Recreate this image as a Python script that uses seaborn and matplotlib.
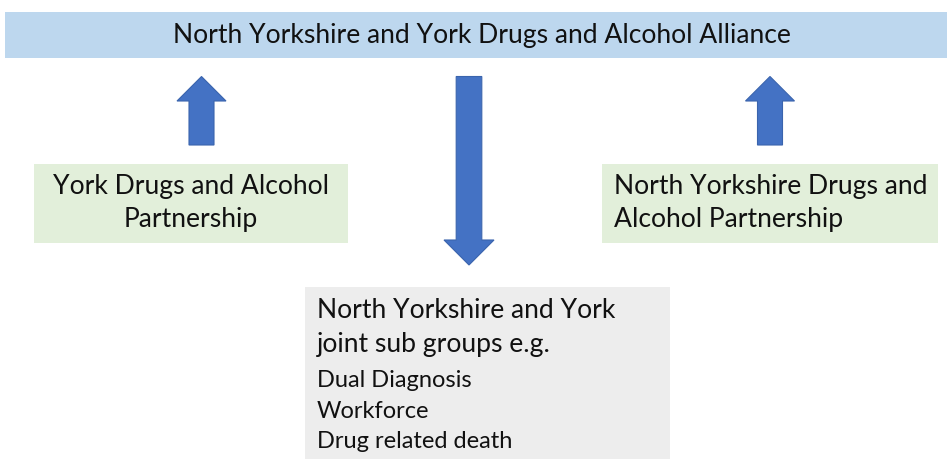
import matplotlib
matplotlib.use("Agg")
import matplotlib.pyplot as plt
from matplotlib.patches import Rectangle, Polygon
import seaborn as sns

sns.set_theme(style="white")
plt.rcParams['font.family'] = ['Lato', 'DejaVu Sans']

# ---- content ----
title_text = "North Yorkshire and York Drugs and Alcohol Alliance"
left_lines = ["York Drugs and Alcohol", "Partnership"]
right_lines = ["North Yorkshire Drugs and", "Alcohol Partnership"]
sub_heading = ["North Yorkshire and York", "joint sub groups e.g."]
sub_groups = ["Dual Diagnosis", "Workforce", "Drug related death"]

# ---- colours ----
BLUE_BANNER = "#BDD7EE"
GREEN_BOX = "#E2EFDA"
GREY_BOX = "#EDEDED"
ARROW = "#4472C4"
ARROW_EDGE = "#3A64AD"
TEXT = "#111111"

W, H = 947, 460
fig = plt.figure(figsize=(W / 100, H / 100), dpi=100)
ax = fig.add_axes([0, 0, 1, 1])
ax.set_xlim(0, W)
ax.set_ylim(H, 0)
ax.axis("off")

BIG = 19.1
SMALL = 17.0

# banner
ax.add_patch(Rectangle((5, 13), W - 5, 46, facecolor=BLUE_BANNER, edgecolor="none"))
ax.text(482, 36, title_text, ha="center", va="center", fontsize=BIG, color=TEXT)

# left green box
ax.add_patch(Rectangle((34, 165), 314, 79, facecolor=GREEN_BOX, edgecolor="none"))
for i, s in enumerate(left_lines):
    ax.text(191, 187 + 33 * i, s, ha="center", va="center", fontsize=BIG, color=TEXT)

# right green box
ax.add_patch(Rectangle((602, 165), 336, 79, facecolor=GREEN_BOX, edgecolor="none"))
for i, s in enumerate(right_lines):
    ax.text(614, 187 + 33 * i, s, ha="left", va="center", fontsize=BIG, color=TEXT)

# grey box
ax.add_patch(Rectangle((305, 288), 365, 172, facecolor=GREY_BOX, edgecolor="none"))
for i, s in enumerate(sub_heading):
    ax.text(317, 311 + 34 * i, s, ha="left", va="center", fontsize=BIG, color=TEXT)
for i, s in enumerate(sub_groups):
    ax.text(317, 381 + 30.5 * i, s, ha="left", va="center", fontsize=SMALL, color=TEXT)


def up_arrow(cx, top, head_base, bottom, head_half, shaft_half):
    pts = [(cx, top), (cx + head_half, head_base), (cx + shaft_half, head_base),
           (cx + shaft_half, bottom), (cx - shaft_half, bottom),
           (cx - shaft_half, head_base), (cx - head_half, head_base)]
    ax.add_patch(Polygon(pts, closed=True, facecolor=ARROW, edgecolor=ARROW_EDGE, lw=0.8))


def down_arrow(cx, top, head_base, tip, head_half, shaft_half):
    pts = [(cx - shaft_half, top), (cx + shaft_half, top), (cx + shaft_half, head_base),
           (cx + head_half, head_base), (cx, tip), (cx - head_half, head_base),
           (cx - shaft_half, head_base)]
    ax.add_patch(Polygon(pts, closed=True, facecolor=ARROW, edgecolor=ARROW_EDGE, lw=0.8))


up_arrow(201.5, 77.5, 102, 146, 24.5, 12.5)
up_arrow(770, 77.5, 102, 146, 24.5, 12.5)
down_arrow(469, 77.5, 241, 266, 25, 12.8)

fig.savefig("out.png", dpi=100, facecolor="white")
